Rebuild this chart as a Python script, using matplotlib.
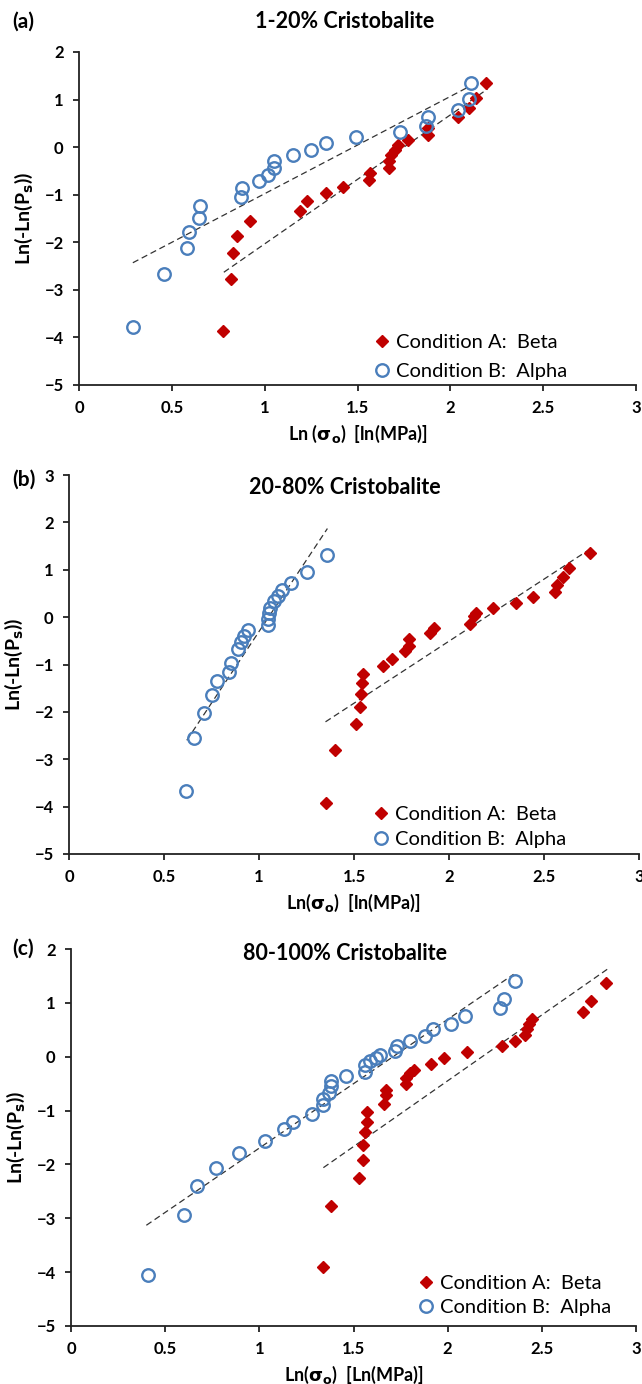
import matplotlib
matplotlib.use("Agg")
import matplotlib.pyplot as plt

plt.rcParams['font.family'] = ['Lato', 'DejaVu Sans']

# ---- panel (a): 1-20% Cristobalite ----
a_beta_x = [2.19, 2.14, 2.10, 2.04, 1.88, 1.88, 1.77, 1.72, 1.70, 1.68, 1.67, 1.67,
            1.57, 1.56, 1.42, 1.33, 1.23, 1.19, 0.92, 0.85, 0.83, 0.82, 0.775]
a_beta_y = [1.34, 1.03, 0.82, 0.64, 0.40, 0.25, 0.15, 0.05, -0.06, -0.16, -0.30, -0.44,
            -0.55, -0.69, -0.83, -0.97, -1.14, -1.35, -1.56, -1.86, -2.22, -2.77, -3.87]
a_alpha_x = [2.11, 2.10, 2.04, 1.88, 1.87, 1.73, 1.49, 1.33, 1.25, 1.15, 1.05, 1.05,
             1.02, 0.97, 0.88, 0.87, 0.65, 0.645, 0.595, 0.58, 0.46, 0.29]
a_alpha_y = [1.34, 1.01, 0.78, 0.63, 0.45, 0.31, 0.22, 0.08, -0.06, -0.17, -0.29, -0.44,
             -0.58, -0.72, -0.86, -1.05, -1.23, -1.49, -1.79, -2.12, -2.66, -3.78]
a_beta_fit_x = [0.78, 2.20]
a_beta_fit_y = [-2.63, 1.22]
a_alpha_fit_x = [0.29, 2.10]
a_alpha_fit_y = [-2.43, 1.27]

# ---- panel (b): 20-80% Cristobalite ----
b_beta_x = [2.74, 2.63, 2.60, 2.57, 2.56, 2.44, 2.35, 2.23, 2.14, 2.13, 2.11, 1.92,
            1.90, 1.79, 1.79, 1.77, 1.70, 1.65, 1.545, 1.54, 1.535, 1.53, 1.51, 1.40, 1.35]
b_beta_y = [1.36, 1.04, 0.85, 0.67, 0.54, 0.43, 0.30, 0.20, 0.09, 0.02, -0.14, -0.23,
            -0.33, -0.47, -0.61, -0.72, -0.89, -1.04, -1.20, -1.40, -1.62, -1.90, -2.25, -2.80, -3.92]
b_alpha_x = [1.36, 1.25, 1.17, 1.12, 1.10, 1.08, 1.06, 1.05, 1.045, 1.045, 0.94, 0.92,
             0.905, 0.89, 0.85, 0.84, 0.78, 0.75, 0.71, 0.66, 0.615]
b_alpha_y = [1.31, 0.95, 0.73, 0.58, 0.44, 0.34, 0.20, 0.08, -0.05, -0.17, -0.27, -0.40,
             -0.53, -0.68, -0.96, -1.15, -1.35, -1.65, -2.02, -2.56, -3.68]
b_beta_fit_x = [1.35, 2.74]
b_beta_fit_y = [-2.21, 1.43]
b_alpha_fit_x = [0.62, 1.36]
b_alpha_fit_y = [-2.60, 1.87]

# ---- panel (c): 80-100% Cristobalite ----
c_beta_x = [2.84, 2.76, 2.72, 2.45, 2.43, 2.42, 2.41, 2.36, 2.29, 2.10, 1.98, 1.91,
            1.82, 1.80, 1.78, 1.78, 1.67, 1.67, 1.66, 1.57, 1.57, 1.56, 1.55, 1.55,
            1.53, 1.38, 1.34]
c_beta_y = [1.36, 1.04, 0.83, 0.70, 0.60, 0.51, 0.40, 0.29, 0.19, 0.09, -0.02, -0.14,
            -0.24, -0.30, -0.39, -0.50, -0.61, -0.72, -0.88, -1.02, -1.22, -1.39, -1.63, -1.91,
            -2.26, -2.78, -3.90]
c_alpha_x = [2.36, 2.30, 2.28, 2.09, 2.02, 1.92, 1.88, 1.80, 1.73, 1.72, 1.64, 1.62,
             1.59, 1.56, 1.56, 1.46, 1.38, 1.38, 1.37, 1.34, 1.34, 1.28, 1.18, 1.13,
             1.03, 0.89, 0.77, 0.67, 0.60, 0.41]
c_alpha_y = [1.41, 1.08, 0.90, 0.76, 0.61, 0.51, 0.39, 0.29, 0.20, 0.11, 0.04, -0.02,
             -0.08, -0.16, -0.29, -0.36, -0.45, -0.55, -0.67, -0.78, -0.89, -1.07, -1.21, -1.34,
             -1.57, -1.79, -2.06, -2.40, -2.93, -4.05]
c_beta_fit_x = [1.34, 2.85]
c_beta_fit_y = [-2.06, 1.63]
c_alpha_fit_x = [0.40, 2.35]
c_alpha_fit_y = [-3.13, 1.53]

x_ticks = [0, 0.5, 1, 1.5, 2, 2.5, 3]
x_tick_labels = ['0', '0.5', '1', '1.5', '2', '2.5', '3']

RED = '#C00000'
BLUE = '#4A7EBB'
W, H = 642, 1384

panels = [
    dict(box=(79, 52, 636, 385), ymax=2, tag='(a)', tag_y=22,
         title='1-20% Cristobalite', title_y=22,
         xlabel=r'Ln ($\mathbf{\sigma_o}$)  [ln(MPa)]',
         beta=(a_beta_x, a_beta_y), alpha=(a_alpha_x, a_alpha_y),
         bfit=(a_beta_fit_x, a_beta_fit_y), afit=(a_alpha_fit_x, a_alpha_fit_y),
         leg=(0.50, -0.02), spacing=0.55),
    dict(box=(69, 475, 639, 854), ymax=3, tag='(b)', tag_y=480,
         title='20-80% Cristobalite', title_y=487,
         xlabel=r'Ln($\mathbf{\sigma_o}$)  [ln(MPa)]',
         beta=(b_beta_x, b_beta_y), alpha=(b_alpha_x, b_alpha_y),
         bfit=(b_beta_fit_x, b_beta_fit_y), afit=(b_alpha_fit_x, b_alpha_fit_y),
         leg=(0.505, -0.015), spacing=0.35),
    dict(box=(71, 949, 636, 1326), ymax=2, tag='(c)', tag_y=949,
         title='80-100% Cristobalite', title_y=953,
         xlabel=r'Ln($\mathbf{\sigma_o}$)  [Ln(MPa)]',
         beta=(c_beta_x, c_beta_y), alpha=(c_alpha_x, c_alpha_y),
         bfit=(c_beta_fit_x, c_beta_fit_y), afit=(c_alpha_fit_x, c_alpha_fit_y),
         leg=(0.585, -0.005), spacing=0.35),
]

fig = plt.figure(figsize=(W / 100, H / 100), dpi=100)

for p in panels:
    l, t, r, b = p['box']
    ax = fig.add_axes([l / W, 1 - b / H, (r - l) / W, (b - t) / H])

    ax.plot(p['bfit'][0], p['bfit'][1], color='#333333', lw=0.9, ls=(0, (5, 3)))
    ax.plot(p['afit'][0], p['afit'][1], color='#333333', lw=0.9, ls=(0, (5, 3)))
    ax.plot(p['beta'][0], p['beta'][1], ls='none', marker='D', ms=6,
            color=RED, mec=RED, label='Condition A:  Beta')
    ax.plot(p['alpha'][0], p['alpha'][1], ls='none', marker='o', ms=9,
            mfc='none', mec=BLUE, mew=1.7, label='Condition B:  Alpha')

    ax.set_xlim(0, 3)
    ax.set_ylim(-5, p['ymax'])
    ax.set_xticks(x_ticks)
    ax.set_xticklabels(x_tick_labels)
    ax.set_yticks(range(-5, p['ymax'] + 1))
    for s in ['top', 'right']:
        ax.spines[s].set_visible(False)
    for s in ['left', 'bottom']:
        ax.spines[s].set_linewidth(1.3)
        ax.spines[s].set_color('#222222')
    ax.tick_params(direction='out', length=4, width=1.3, color='#222222',
                   labelsize=12, pad=7)
    for lab in ax.get_xticklabels() + ax.get_yticklabels():
        lab.set_fontweight('bold')

    ax.set_xlabel(p['xlabel'], fontsize=13, fontweight='bold', labelpad=5)
    ax.set_ylabel(r'Ln(-Ln(P$\mathbf{_s}$))', fontsize=14, fontweight='bold', labelpad=7)

    ax.legend(loc='lower left', bbox_to_anchor=p['leg'], frameon=False,
              fontsize=14.5, handletextpad=0.1, labelspacing=p['spacing'],
              borderaxespad=0.2, handlelength=1.2)

    fig.text(12 / W, 1 - p['tag_y'] / H, p['tag'], fontsize=15, fontweight='bold',
             va='center', ha='left')
    fig.text(345 / W, 1 - p['title_y'] / H, p['title'], fontsize=15.5, fontweight='bold',
             va='center', ha='center')

fig.savefig('out.png', dpi=100)
